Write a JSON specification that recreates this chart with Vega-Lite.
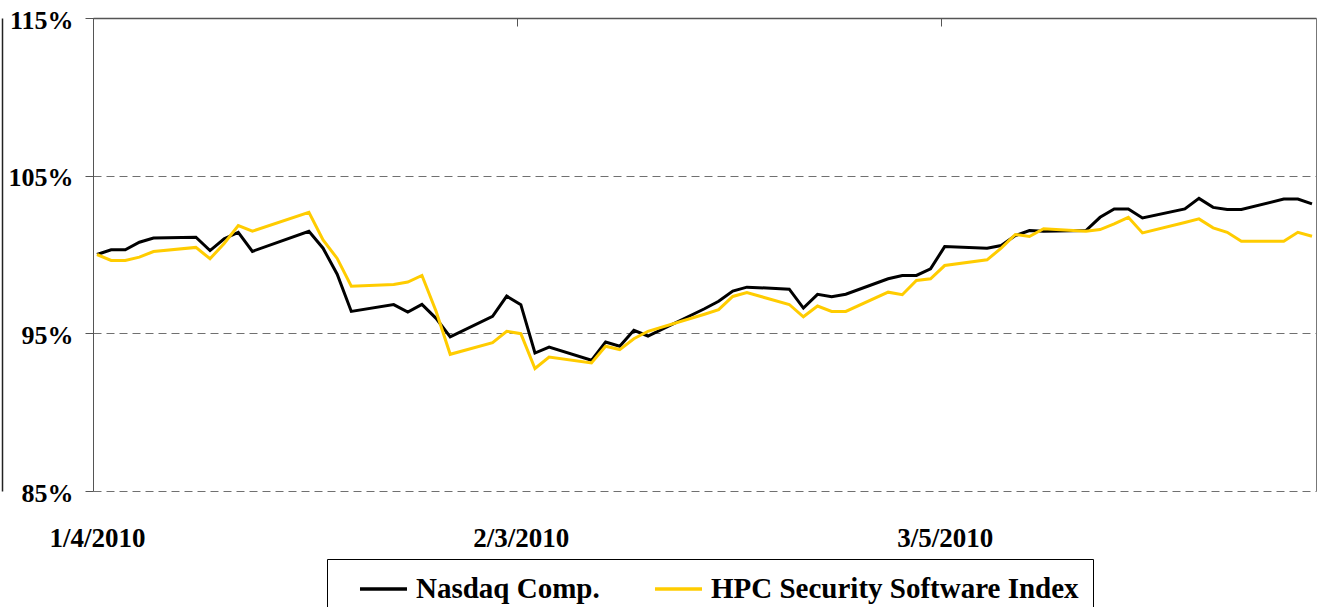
{
  "$schema": "https://vega.github.io/schema/vega-lite/v6.json",
  "width": 1223,
  "height": 473,
  "autosize": "none",
  "padding": {"left": 93, "top": 18, "right": 6, "bottom": 116},
  "background": "white",
  "config": {"view": {"stroke": null}, "font": "Liberation Serif"},
  "data": {"values": [
    {"date": "2010-01-04", "N": 100, "H": 100},
    {"date": "2010-01-05", "N": 100.3, "H": 99.62},
    {"date": "2010-01-06", "N": 100.3, "H": 99.62},
    {"date": "2010-01-07", "N": 100.78, "H": 99.83},
    {"date": "2010-01-08", "N": 101.05, "H": 100.19},
    {"date": "2010-01-11", "N": 101.1, "H": 100.45},
    {"date": "2010-01-12", "N": 100.25, "H": 99.73},
    {"date": "2010-01-13", "N": 101.0, "H": 100.7},
    {"date": "2010-01-14", "N": 101.4, "H": 101.84},
    {"date": "2010-01-15", "N": 100.2, "H": 101.48},
    {"date": "2010-01-19", "N": 101.47, "H": 102.68},
    {"date": "2010-01-20", "N": 100.4, "H": 100.93},
    {"date": "2010-01-21", "N": 98.75, "H": 99.75},
    {"date": "2010-01-22", "N": 96.39, "H": 97.99},
    {"date": "2010-01-25", "N": 96.82, "H": 98.1},
    {"date": "2010-01-26", "N": 96.35, "H": 98.25},
    {"date": "2010-01-27", "N": 96.84, "H": 98.67},
    {"date": "2010-01-28", "N": 95.95, "H": 96.4},
    {"date": "2010-01-29", "N": 94.77, "H": 93.67},
    {"date": "2010-02-01", "N": 96.08, "H": 94.41},
    {"date": "2010-02-02", "N": 97.36, "H": 95.13},
    {"date": "2010-02-03", "N": 96.82, "H": 94.98},
    {"date": "2010-02-04", "N": 93.75, "H": 92.77},
    {"date": "2010-02-05", "N": 94.13, "H": 93.5},
    {"date": "2010-02-08", "N": 93.29, "H": 93.12},
    {"date": "2010-02-09", "N": 94.45, "H": 94.18},
    {"date": "2010-02-10", "N": 94.18, "H": 93.97},
    {"date": "2010-02-11", "N": 95.19, "H": 94.66},
    {"date": "2010-02-12", "N": 94.83, "H": 95.13},
    {"date": "2010-02-16", "N": 96.56, "H": 96.21},
    {"date": "2010-02-17", "N": 97.03, "H": 96.5},
    {"date": "2010-02-18", "N": 97.68, "H": 97.34},
    {"date": "2010-02-19", "N": 97.93, "H": 97.58},
    {"date": "2010-02-22", "N": 97.8, "H": 96.83},
    {"date": "2010-02-23", "N": 96.6, "H": 96.05},
    {"date": "2010-02-24", "N": 97.47, "H": 96.73},
    {"date": "2010-02-25", "N": 97.32, "H": 96.39},
    {"date": "2010-02-26", "N": 97.48, "H": 96.39},
    {"date": "2010-03-01", "N": 98.46, "H": 97.61},
    {"date": "2010-03-02", "N": 98.67, "H": 97.45},
    {"date": "2010-03-03", "N": 98.67, "H": 98.35},
    {"date": "2010-03-04", "N": 99.09, "H": 98.46},
    {"date": "2010-03-05", "N": 100.5, "H": 99.3},
    {"date": "2010-03-08", "N": 100.4, "H": 99.66},
    {"date": "2010-03-09", "N": 100.57, "H": 100.4},
    {"date": "2010-03-10", "N": 101.2, "H": 101.27},
    {"date": "2010-03-11", "N": 101.52, "H": 101.14},
    {"date": "2010-03-12", "N": 101.47, "H": 101.63},
    {"date": "2010-03-15", "N": 101.52, "H": 101.48},
    {"date": "2010-03-16", "N": 102.36, "H": 101.58},
    {"date": "2010-03-17", "N": 102.89, "H": 101.94},
    {"date": "2010-03-18", "N": 102.89, "H": 102.36},
    {"date": "2010-03-19", "N": 102.32, "H": 101.37},
    {"date": "2010-03-22", "N": 102.89, "H": 102.03},
    {"date": "2010-03-23", "N": 103.56, "H": 102.26},
    {"date": "2010-03-24", "N": 102.99, "H": 101.69},
    {"date": "2010-03-25", "N": 102.85, "H": 101.41},
    {"date": "2010-03-26", "N": 102.85, "H": 100.84},
    {"date": "2010-03-29", "N": 103.52, "H": 100.84},
    {"date": "2010-03-30", "N": 103.52, "H": 101.41},
    {"date": "2010-03-31", "N": 103.21, "H": 101.16}
  ]},
  "transform": [{"fold": ["N", "H"], "as": ["series", "value"]}],
  "layer": [
    {
      "mark": {"type": "line", "strokeWidth": 3, "strokeJoin": "miter", "clip": true},
      "encoding": {
        "x": {
          "field": "date", "type": "temporal",
          "scale": {"type": "utc", "domain": [{"year": 2010, "month": 1, "date": 3, "hours": 17, "minutes": 12, "utc": true}, {"year": 2010, "month": 3, "date": 31, "hours": 6, "minutes": 48, "utc": true}]},
          "axis": {
            "orient": "bottom", "title": null, "domain": false, "ticks": false, "grid": false,
            "values": [{"year": 2010, "month": 1, "date": 4, "utc": true}, {"year": 2010, "month": 2, "date": 3, "utc": true}, {"year": 2010, "month": 3, "date": 5, "utc": true}],
            "labelExpr": "utcFormat(datum.value, '%-m/%-d/%Y')",
            "labelFont": "Liberation Serif", "labelFontSize": 27, "labelFontWeight": "bold", "labelColor": "black",
            "labelPadding": 34, "labelFlush": false, "labelOverlap": false
          }
        },
        "y": {
          "field": "value", "type": "quantitative",
          "scale": {"domain": [85, 115], "nice": false, "zero": false},
          "axis": {
            "orient": "left", "title": null, "values": [85, 95, 105, 115],
            "labelExpr": "datum.value + '%'",
            "labelFont": "Liberation Serif", "labelFontSize": 26, "labelFontWeight": "bold", "labelColor": "black",
            "labelPadding": 12, "labelBaseline": "middle", "labelOffset": 2, "labelFlush": false, "labelOverlap": false,
            "domain": true, "domainColor": "#555555", "domainWidth": 1,
            "ticks": true, "tickSize": 8, "tickColor": "#555555",
            "grid": true, "gridColor": "#707070", "gridDash": [8, 5], "gridWidth": 1
          }
        },
        "color": {
          "field": "series", "type": "nominal",
          "scale": {"domain": ["N", "H"], "range": ["#000000", "#FFCC00"]},
          "legend": {
            "orient": "none", "legendX": 234, "legendY": 541, "direction": "horizontal", "title": null,
            "labelExpr": "datum.value == 'N' ? 'Nasdaq Comp.' : 'HPC Security Software Index'",
            "symbolType": "M0.214,0H3.571", "symbolSize": 784, "symbolStrokeWidth": 3.5,
            "labelFont": "Liberation Serif", "labelFontSize": 29, "labelFontWeight": "bold", "labelColor": "black",
            "labelLimit": 0, "labelOffset": 43, "columnPadding": 36,
            "strokeColor": "black", "fillColor": "white", "padding": 14
          }
        }
      }
    },
    {
      "mark": {"type": "line", "opacity": 0},
      "encoding": {
        "x": {
          "field": "date", "type": "temporal",
          "axis": {
            "orient": "top", "title": null, "labels": false, "grid": false,
            "values": [{"year": 2010, "month": 1, "date": 4, "utc": true}, {"year": 2010, "month": 2, "date": 3, "utc": true}, {"year": 2010, "month": 3, "date": 5, "utc": true}],
            "domain": true, "domainColor": "#555555", "domainWidth": 1.5,
            "ticks": true, "tickSize": -8, "tickColor": "#555555", "tickOffset": -4
          }
        },
        "y": {
          "field": "value", "type": "quantitative",
          "axis": {"orient": "right", "title": null, "labels": false, "ticks": false, "grid": false, "domain": true, "domainColor": "#777777", "domainWidth": 1}
        },
        "detail": {"field": "series"}
      }
    },
    {
      "mark": {"type": "line", "opacity": 0},
      "encoding": {
        "x": {"field": "date", "type": "temporal", "axis": null},
        "y": {
          "field": "value", "type": "quantitative",
          "axis": {"orient": "left", "offset": 91, "title": null, "labels": false, "ticks": false, "grid": false, "domain": true, "domainColor": "#222222", "domainWidth": 1.5}
        },
        "detail": {"field": "series"}
      }
    }
  ],
  "resolve": {"axis": {"x": "independent", "y": "independent"}}
}
